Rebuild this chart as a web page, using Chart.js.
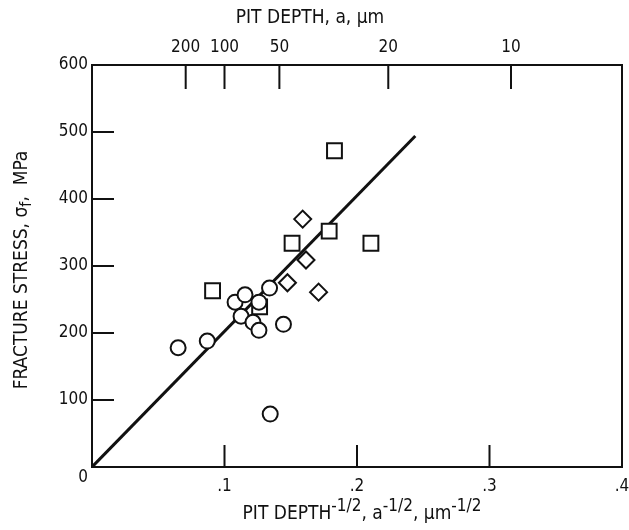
<!DOCTYPE html>
<html lang="en">
<head>
    <meta charset="UTF-8">
    <title>Fracture stress vs pit depth</title>
    <script src="https://cdn.jsdelivr.net/npm/chart.js"></script>
    <style>
        body {
            margin: 0;
            padding: 0;
            background: #fff;
        }
        .chart-box {
            width: 629px;
            height: 530px;
        }
    </style>
</head>
<body>
    <div class="chart-box">
        <canvas id="pitChart" width="629" height="530"></canvas>
    </div>

    <script>
        // values (x = a^-1/2 in um^-1/2, y = MPa)
        const circleX = [0.065, 0.087, 0.108, 0.1155, 0.1125, 0.1215, 0.126, 0.126, 0.134, 0.1445, 0.1345];
        const circleY = [178, 188, 246, 257, 225, 216, 246, 204, 267, 213, 79];
        const squareX = [0.183, 0.179, 0.151, 0.2105, 0.091, 0.1265];
        const squareY = [472, 352, 334, 334, 263, 239];
        const diamondX = [0.159, 0.1615, 0.1475, 0.171];
        const diamondY = [370, 309, 275, 261];
        const fitX = [0, 0.244];
        const fitY = [0, 494];

        const yTicks = [0, 100, 200, 300, 400, 500, 600];
        const xTicks = [0.1, 0.2, 0.3, 0.4];
        const depthTicks = [200, 100, 50, 20, 10];   // top axis, pit depth a in um

        const FONT = "'Liberation Sans Narrow', 'DejaVu Sans Condensed', sans-serif";
        const INK = '#111';

        function toPoints(xs, ys) {
            return xs.map((x, i) => ({ x: x, y: ys[i] }));
        }

        // write text with super/subscript parts, centred on x
        function drawRich(ctx, parts, x, y, size, small) {
            let total = 0;
            parts.forEach(p => {
                ctx.font = (p.sup || p.sub ? small : size) + 'px ' + FONT;
                p.w = ctx.measureText(p.t).width;
                total += p.w;
            });
            let cx = x - total / 2;
            parts.forEach(p => {
                ctx.font = (p.sup || p.sub ? small : size) + 'px ' + FONT;
                let dy = p.sup ? -8 : (p.sub ? 4 : 0);
                ctx.fillText(p.t, cx, y + dy);
                cx += p.w;
            });
        }

        // ticks in this figure point into the plot area; right frame edge too
        const innerTicks = {
            id: 'innerTicks',
            afterDatasetsDraw(chart) {
                const ctx = chart.ctx;
                const area = chart.chartArea;
                const sx = chart.scales.x, sy = chart.scales.y, st = chart.scales.x2;
                ctx.save();
                ctx.strokeStyle = INK;
                ctx.lineWidth = 2;
                ctx.beginPath();
                ctx.moveTo(area.right, area.top);
                ctx.lineTo(area.right, area.bottom);
                yTicks.slice(1, -1).forEach(v => {
                    const py = sy.getPixelForValue(v);
                    ctx.moveTo(area.left, py);
                    ctx.lineTo(area.left + 22, py);
                });
                xTicks.slice(0, -1).forEach(v => {
                    const px = sx.getPixelForValue(v);
                    ctx.moveTo(px, area.bottom);
                    ctx.lineTo(px, area.bottom - 22);
                });
                depthTicks.forEach(d => {
                    const px = st.getPixelForValue(1 / Math.sqrt(d));
                    ctx.moveTo(px, area.top);
                    ctx.lineTo(px, area.top + 24);
                });
                ctx.stroke();
                ctx.restore();
            },
            afterDraw(chart) {
                const ctx = chart.ctx;
                const area = chart.chartArea;
                ctx.save();
                ctx.fillStyle = INK;
                ctx.textBaseline = 'alphabetic';
                ctx.textAlign = 'left';

                // top axis title
                drawRich(ctx, [{ t: 'PIT DEPTH, a, \u00b5m' }], area.left + 218, 23, 19, 19);

                // bottom axis title
                drawRich(ctx, [
                    { t: 'PIT DEPTH' }, { t: '-1/2', sup: true },
                    { t: ', a' }, { t: '-1/2', sup: true },
                    { t: ', \u00b5m' }, { t: '-1/2', sup: true }
                ], area.left + 270, 519, 19, 17);

                // left axis title
                ctx.translate(27, (area.top + area.bottom) / 2 + 4);
                ctx.rotate(-Math.PI / 2);
                drawRich(ctx, [
                    { t: 'FRACTURE STRESS, \u03c3' }, { t: 'f', sub: true }, { t: ',  MPa' }
                ], 0, 0, 19, 16);
                ctx.restore();
            }
        };

        const markerBase = {
            showLine: false,
            pointBackgroundColor: '#fff',
            pointBorderColor: INK,
            pointBorderWidth: 2,
            order: 0
        };

        // keep the plot box where the figure has it
        function noSidePadding(s) {
            s.paddingLeft = 0;
            s.paddingRight = 0;
        }

        new Chart(document.getElementById('pitChart'), {
            type: 'scatter',
            data: {
                datasets: [
                    Object.assign({ label: 'circles', data: toPoints(circleX, circleY), pointStyle: 'circle', pointRadius: 7.5 }, markerBase),
                    Object.assign({ label: 'squares', data: toPoints(squareX, squareY), pointStyle: 'rect', pointRadius: 10.5 }, markerBase, { order: 1 }),
                    Object.assign({ label: 'diamonds', data: toPoints(diamondX, diamondY), pointStyle: 'rectRot', pointRadius: 8.5 }, markerBase),
                    {
                        label: 'fit',
                        data: toPoints(fitX, fitY),
                        showLine: true,
                        borderColor: INK,
                        borderWidth: 3,
                        pointRadius: 0,
                        order: 5
                    }
                ]
            },
            options: {
                responsive: false,
                animation: false,
                layout: { autoPadding: false, padding: { left: 0, right: 7, top: 0, bottom: 0 } },
                plugins: {
                    legend: { display: false },
                    tooltip: { enabled: false }
                },
                scales: {
                    x: {
                        type: 'linear',
                        position: 'bottom',
                        min: 0,
                        max: 0.4,
                        afterBuildTicks: s => { s.ticks = xTicks.map(v => ({ value: v })); },
                        ticks: {
                            color: INK,
                            font: { family: FONT, size: 17 },
                            padding: 9,
                            maxRotation: 0,
                            callback: v => v.toFixed(1).replace(/^0/, '')
                        },
                        grid: { display: false, drawTicks: false },
                        border: { color: INK, width: 2 },
                        afterFit: s => { s.height = 63; noSidePadding(s); }
                    },
                    x2: {
                        type: 'linear',
                        position: 'top',
                        min: 0,
                        max: 0.4,
                        afterBuildTicks: s => { s.ticks = depthTicks.map(d => ({ value: 1 / Math.sqrt(d) })); },
                        ticks: {
                            color: INK,
                            font: { family: FONT, size: 17 },
                            padding: 7,
                            maxRotation: 0,
                            autoSkip: false,
                            callback: (v, i) => depthTicks[i]
                        },
                        grid: { display: false, drawTicks: false },
                        border: { color: INK, width: 2 },
                        afterFit: s => { s.height = 65; noSidePadding(s); }
                    },
                    y: {
                        type: 'linear',
                        position: 'left',
                        min: 0,
                        max: 600,
                        afterBuildTicks: s => { s.ticks = yTicks.map(v => ({ value: v })); },
                        ticks: {
                            color: INK,
                            font: { family: FONT, size: 17 },
                            padding: 4,
                            callback: v => v === 0 ? ['', '0'] : v
                        },
                        grid: { display: false, drawTicks: false },
                        border: { color: INK, width: 2 },
                        afterFit: s => { s.width = 92; }
                    }
                }
            },
            plugins: [innerTicks]
        });
    </script>
</body>
</html>
